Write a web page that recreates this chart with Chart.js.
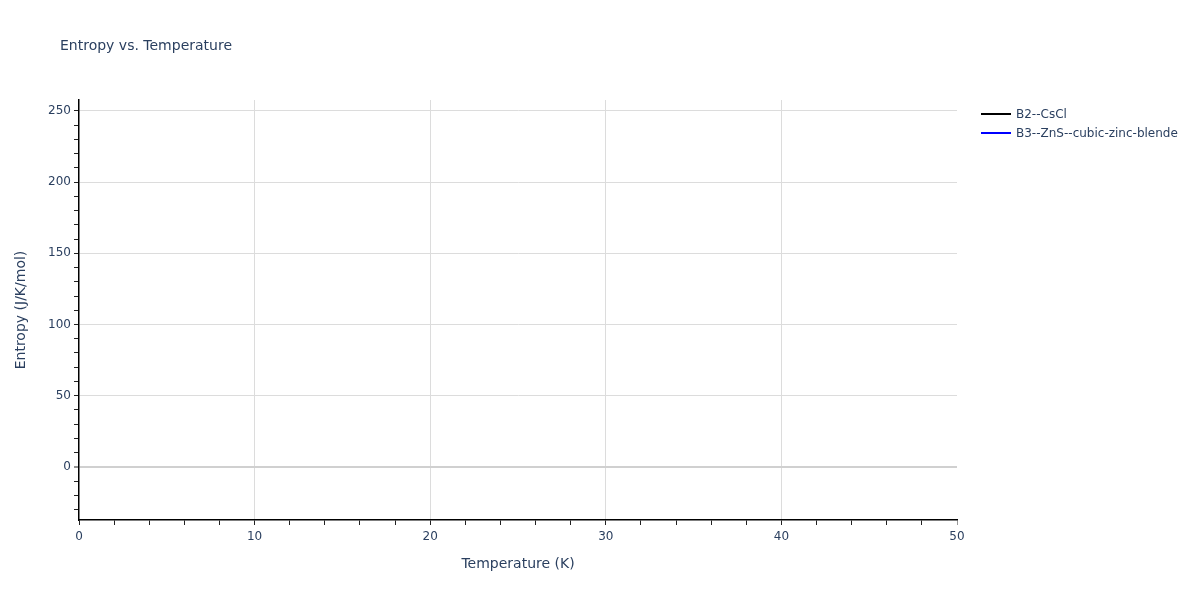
<!DOCTYPE html>
<html>
<head>
<meta charset="utf-8">
<script src="https://cdn.jsdelivr.net/npm/chart.js@4"></script>
<style>
html,body{margin:0;padding:0;background:#fff;}
#wrap{position:relative;width:1200px;height:600px;}
</style>
</head>
<body>
<div id="wrap"><canvas id="c" width="1200" height="600"></canvas></div>
<script>
// ---- data ----
const chartTitle = "Entropy vs. Temperature";
const seriesNames = ["B2--CsCl", "B3--ZnS--cubic-zinc-blende"];
const seriesColors = ["#000000", "#0000ff"];
// No data points are visible in the reference within the plotted range
const temperatureB2 = [];
const entropyB2 = [];
const temperatureB3 = [];
const entropyB3 = [];
const xMajorTicks = [0, 10, 20, 30, 40, 50];
const yMajorTicks = [0, 50, 100, 150, 200, 250];
const xMinorStep = 2;
const yMinorStep = 10;
const xRange = [0, 50];
const yRange = [-37.3, 257.7];

const FONT = "'DejaVu Sans', Verdana, sans-serif";
const TXT = "#2a3f5f";

function pts(xs, ys){ return xs.map((x,i)=>({x:x, y:ys[i]})); }

function minorTicks(min, max, step){
  const out = [];
  for (let v = Math.ceil(min/step)*step; v <= max + 1e-9; v += step) out.push({value: Math.round(v*1000)/1000});
  return out;
}

const overlay = {
  id: 'overlay',
  afterDraw(chart){
    const ctx = chart.ctx;
    ctx.save();
    ctx.fillStyle = TXT;
    ctx.font = "14px " + FONT;
    ctx.textBaseline = 'alphabetic';
    ctx.textAlign = 'left';
    ctx.fillText(chartTitle, 60, 50);
    // legend
    ctx.font = "12px " + FONT;
    ctx.textBaseline = 'middle';
    chart.data.datasets.forEach((ds, i) => {
      const y = 114 + i*19;
      ctx.strokeStyle = ds.borderColor;
      ctx.lineWidth = 2;
      ctx.beginPath(); ctx.moveTo(981, y); ctx.lineTo(1011, y); ctx.stroke();
      ctx.fillStyle = TXT;
      ctx.fillText(ds.label, 1016, y + 1);
    });
    ctx.restore();
  }
};

new Chart(document.getElementById('c'), {
  type: 'line',
  data: {
    datasets: [
      {label: seriesNames[0], data: pts(temperatureB2, entropyB2), borderColor: seriesColors[0], backgroundColor: seriesColors[0], borderWidth: 2, pointRadius: 0, fill: false},
      {label: seriesNames[1], data: pts(temperatureB3, entropyB3), borderColor: seriesColors[1], backgroundColor: seriesColors[1], borderWidth: 2, pointRadius: 0, fill: false}
    ]
  },
  options: {
    responsive: false,
    animation: false,
    devicePixelRatio: 1,
    layout: {padding: {left: 0, right: 243, top: 100, bottom: 0}},
    plugins: {legend: {display: false}, title: {display: false}, tooltip: {enabled: false}},
    scales: {
      x: {
        type: 'linear',
        min: xRange[0], max: xRange[1],
        afterBuildTicks: (s) => { s.ticks = minorTicks(xRange[0], xRange[1], xMinorStep); },
        afterFit: (s) => { s.height = 80; },
        border: {display: true, color: '#000', width: 1.5},
        grid: {
          drawTicks: true, tickLength: 5, tickWidth: 1,
          tickColor: (c) => c.tick && c.tick.value === xRange[1] ? '#999' : '#222',
          color: (c) => (c.tick && xMajorTicks.includes(c.tick.value) && c.tick.value !== xRange[0] && c.tick.value !== xRange[1]) ? '#dcdcdc' : 'rgba(0,0,0,0)',
          lineWidth: 1
        },
        ticks: {
          autoSkip: false, maxRotation: 0, padding: 5,
          color: TXT, font: {family: FONT, size: 12},
          callback: (v) => xMajorTicks.includes(v) ? String(v) : ''
        },
        title: {display: true, text: 'Temperature (K)', color: TXT, font: {family: FONT, size: 14}, padding: {top: 0, bottom: 27}}
      },
      y: {
        type: 'linear',
        min: yRange[0], max: yRange[1],
        afterBuildTicks: (s) => { s.ticks = minorTicks(yRange[0], yRange[1], yMinorStep); },
        afterFit: (s) => { s.width = 79; },
        border: {display: true, color: '#000', width: 1.5},
        grid: {
          drawTicks: true, tickLength: 5, tickWidth: 1, tickColor: '#222',
          color: (c) => {
            if (!c.tick) return 'rgba(0,0,0,0)';
            if (c.tick.value === 0) return '#d0d0d0';
            return yMajorTicks.includes(c.tick.value) ? '#dcdcdc' : 'rgba(0,0,0,0)';
          },
          lineWidth: (c) => c.tick && c.tick.value === 0 ? 2 : 1
        },
        ticks: {
          autoSkip: false, padding: 3,
          color: TXT, font: {family: FONT, size: 12},
          callback: (v) => yMajorTicks.includes(v) ? String(v) : ''
        },
        title: {display: true, text: 'Entropy (J/K/mol)', color: TXT, font: {family: FONT, size: 14}, padding: {top: 13, bottom: 0}}
      }
    }
  },
  plugins: [overlay]
});
</script>
</body>
</html>
